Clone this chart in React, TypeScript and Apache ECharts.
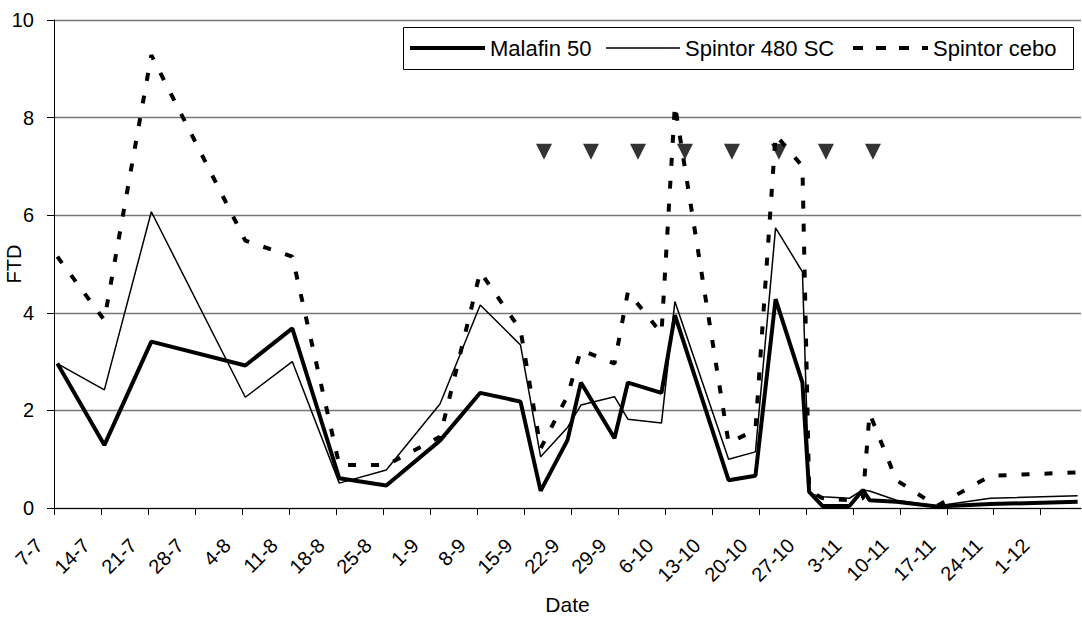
import React, { useEffect, useRef } from "react";
import * as echarts from "echarts";

// Sampling dates (day-month)
const sampleDates = [
  "7-7", "14-7", "21-7", "4-8", "11-8", "18-8", "25-8", "2-9", "8-9", "14-9",
  "17-9", "21-9", "23-9", "28-9", "30-9", "5-10", "7-10", "15-10", "19-10", "22-10",
  "26-10", "27-10", "29-10", "2-11", "4-11", "5-11", "9-11", "15-11", "23-11", "6-12",
];

const malafin50 = [
  2.96, 1.29, 3.41, 2.92, 3.68, 0.61, 0.46, 1.38, 2.36, 2.18,
  0.35, 1.39, 2.57, 1.43, 2.57, 2.36, 3.95, 0.57, 0.66, 4.28,
  2.57, 0.33, 0.04, 0.04, 0.37, 0.16, 0.13, 0.03, 0.08, 0.13,
];

const spintor480 = [
  2.96, 2.42, 6.07, 2.27, 3.0, 0.51, 0.78, 2.13, 4.16, 3.34,
  1.05, 1.65, 2.11, 2.28, 1.82, 1.74, 4.23, 1.0, 1.15, 5.74,
  4.84, 0.3, 0.23, 0.2, 0.37, 0.35, 0.16, 0.04, 0.2, 0.25,
];

const spintorCebo = [
  5.15, 3.85, 9.28, 5.48, 5.15, 0.88, 0.88, 1.46, 4.84, 3.65,
  1.22, 2.3, 3.24, 2.96, 4.43, 3.58, 8.26, 1.33, 1.6, 7.65,
  7.0, 0.35, 0.2, 0.16, 0.2, 1.94, 0.57, 0.04, 0.66, 0.73,
];

// Application dates (triangles)
const applicationDates = ["18-9", "25-9", "2-10", "9-10", "16-10", "23-10", "30-10", "6-11"];
const applicationLevel = 7.3;

// Weekly tick labels
const tickLabels = [
  "7-7", "14-7", "21-7", "28-7", "4-8", "11-8", "18-8", "25-8", "1-9", "8-9", "15-9",
  "22-9", "29-9", "6-10", "13-10", "20-10", "27-10", "3-11", "10-11", "17-11", "24-11", "1-12",
];
const axisEndDate = "7-12";

const seriesNames = ["Malafin 50", "Spintor 480 SC", "Spintor cebo"];
const yTicks = [0, 2, 4, 6, 8, 10];

const BASE = Date.UTC(2001, 6, 7);
function dayOffset(s: string): number {
  const [d, m] = s.split("-").map(Number);
  return Math.round((Date.UTC(2001, m - 1, d) - BASE) / 86400000);
}

const FONT = "'Liberation Sans', Arial, sans-serif";

export default function App() {
  const ref = useRef<HTMLDivElement>(null);
  useEffect(() => {
    if (!ref.current) return;
    const chart = echarts.init(ref.current, null, { renderer: "svg" });
    const tickValues = tickLabels.map(dayOffset);
    const labelMap: Record<number, string> = {};
    tickLabels.forEach((t) => (labelMap[dayOffset(t)] = t));
    const pts = (vals: number[]) => sampleDates.map((d, i) => [dayOffset(d) + 0.5, vals[i]]);

    // legend drawn as graphic (box, line samples, texts)
    const legendY = 48;
    const legendItems = [
      { x1: 410, x2: 485, tx: 490, width: 4, dash: null as number[] | null },
      { x1: 606, x2: 680, tx: 685, width: 1.5, dash: null },
      { x1: 853, x2: 928, tx: 933, width: 4, dash: [10, 13] },
    ];
    const legendGraphics: any[] = [
      {
        type: "rect",
        shape: { x: 403.5, y: 27.5, width: 670, height: 42 },
        style: { fill: "#fff", stroke: "#000", lineWidth: 1 },
        z: 100,
      },
    ];
    legendItems.forEach((it, i) => {
      legendGraphics.push({
        type: "line",
        shape: { x1: it.x1, y1: legendY, x2: it.x2, y2: legendY },
        style: { stroke: "#000", lineWidth: it.width, lineDash: it.dash || undefined, lineCap: "butt" },
        z: 101,
      });
      legendGraphics.push({
        type: "text",
        x: it.tx,
        y: legendY,
        style: {
          text: seriesNames[i],
          fill: "#000",
          fontSize: 22,
          fontFamily: FONT,
          verticalAlign: "middle",
          align: "left",
        },
        z: 101,
      });
    });

    chart.setOption({
      animation: false,
      backgroundColor: "#fff",
      textStyle: { fontFamily: FONT },
      grid: { left: 54, right: 1, top: 20, bottom: 114, containLabel: false, outerBoundsMode: "none" },
      graphic: legendGraphics,
      xAxis: {
        type: "value",
        min: 0,
        max: dayOffset(axisEndDate),
        interval: 7,
        name: "Date",
        nameLocation: "middle",
        nameGap: 86,
        nameMoveOverlap: false,
        nameTextStyle: { fontSize: 21, color: "#000", fontFamily: FONT },
        axisLine: { show: true, lineStyle: { color: "#000", width: 1 } },
        axisTick: { show: true, inside: false, length: 7, lineStyle: { color: "#000" }, customValues: tickValues },
        axisLabel: {
          customValues: tickValues,
          rotate: 45,
          margin: 19,
          padding: [0, 21, 0, 0],
          fontSize: 20,
          color: "#000",
          fontFamily: FONT,
          formatter: (v: number) => labelMap[Math.round(v)] ?? "",
        },
        splitLine: { show: false },
      },
      yAxis: {
        type: "value",
        min: 0,
        max: 10,
        interval: 2,
        name: "FTD",
        nameLocation: "middle",
        nameGap: 30,
        nameMoveOverlap: false,
        nameTextStyle: { fontSize: 20, color: "#000", fontFamily: FONT },
        axisLine: { show: true, lineStyle: { color: "#000", width: 1 } },
        axisTick: { show: true, inside: false, length: 7, lineStyle: { color: "#000" } },
        axisLabel: {
          margin: 20,
          fontSize: 20,
          color: "#000",
          fontFamily: FONT,
          formatter: (v: number) => (yTicks.includes(v) ? String(v) : ""),
        },
        splitLine: { show: true, lineStyle: { color: "#777", width: 1.3 } },
      },
      series: [
        {
          name: seriesNames[0],
          type: "line",
          data: pts(malafin50),
          symbol: "none",
          lineStyle: { color: "#000", width: 4 },
          itemStyle: { color: "#000" },
          z: 3,
        },
        {
          name: seriesNames[1],
          type: "line",
          data: pts(spintor480),
          symbol: "none",
          lineStyle: { color: "#000", width: 1.5 },
          itemStyle: { color: "#000" },
          z: 4,
        },
        {
          name: seriesNames[2],
          type: "line",
          data: pts(spintorCebo),
          symbol: "none",
          lineStyle: { color: "#000", width: 4, type: [8, 15], cap: "butt" },
          itemStyle: { color: "#000" },
          z: 5,
        },
        {
          name: "Applications",
          type: "scatter",
          data: applicationDates.map((d) => [dayOffset(d), applicationLevel]),
          symbol: "triangle",
          symbolRotate: 180,
          symbolSize: 16,
          itemStyle: { color: "#000" },
          z: 6,
        },
      ],
    });
    return () => chart.dispose();
  }, []);

  return (
    <div
      ref={ref}
      style={{ position: "fixed", left: 0, top: 0, width: 1082, height: 622, background: "#fff" }}
    />
  );
}
